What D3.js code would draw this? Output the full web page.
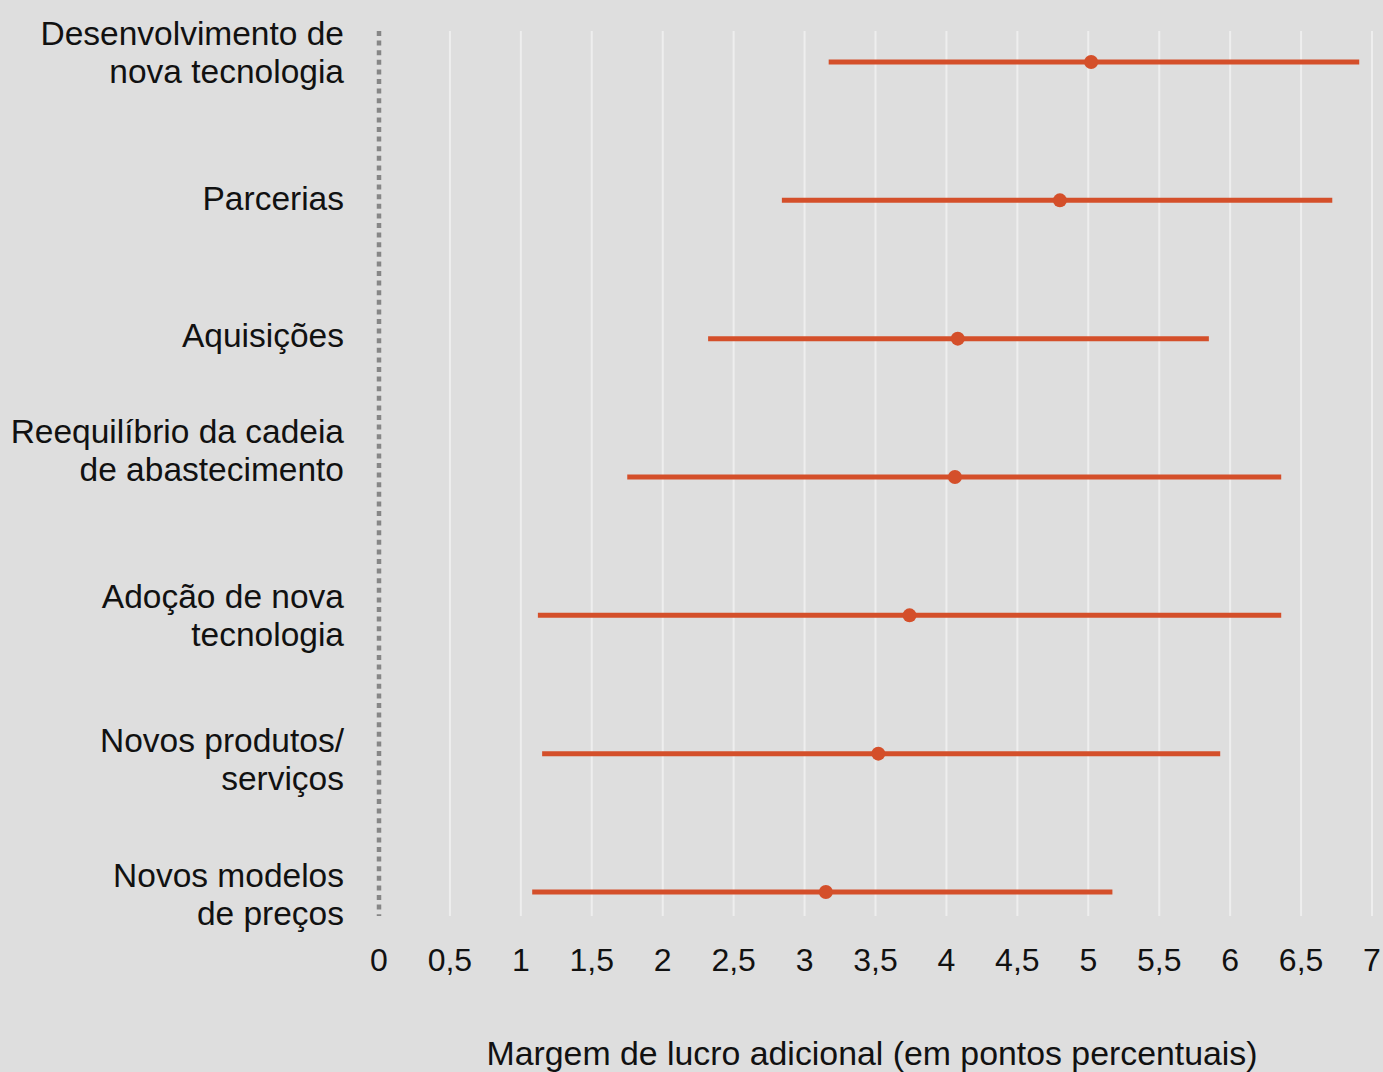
<!DOCTYPE html>
<html>
<head>
<meta charset="utf-8">
<script src="https://cdn.jsdelivr.net/npm/d3@7"></script>
<style>
  body { margin: 0; background: #dedede; }
  svg { display: block; font-family: "Liberation Sans", Arial, sans-serif; }
</style>
</head>
<body>
<svg id="chart" width="1383" height="1072"></svg>
<script>
// categories, top to bottom (lines split for the labels)
var categories = [
  ["Desenvolvimento de", "nova tecnologia"],
  ["Parcerias"],
  ["Aquisições"],
  ["Reequilíbrio da cadeia", "de abastecimento"],
  ["Adoção de nova", "tecnologia"],
  ["Novos produtos/", "serviços"],
  ["Novos modelos", "de preços"]
];
var lowValues  = [3.17, 2.84, 2.32, 1.75, 1.12, 1.15, 1.08];
var midValues  = [5.02, 4.80, 4.08, 4.06, 3.74, 3.52, 3.15];
var highValues = [6.91, 6.72, 5.85, 6.36, 6.36, 5.93, 5.17];
var tickValues = [0, 0.5, 1, 1.5, 2, 2.5, 3, 3.5, 4, 4.5, 5, 5.5, 6, 6.5, 7];
var axisTitle = "Margem de lucro adicional (em pontos percentuais)";

// label block shift relative to its row (layout only)
var labelShift = [-10, -2, -4, -27, 0, 5, 2];

var svg = d3.select("#chart");
var orange = "#d44f2a";

var x = d3.scaleLinear().domain([0, 7]).range([379, 1372]);
var y = d3.scalePoint().domain(d3.range(categories.length)).range([62, 892]);

var rows = categories.map(function(c, i) {
  return { label: c, low: lowValues[i], mid: midValues[i], high: highValues[i], i: i };
});

// gridlines
svg.append("g").selectAll("line")
  .data(tickValues.filter(function(d) { return d > 0; }))
  .enter().append("line")
  .attr("x1", function(d) { return x(d); })
  .attr("x2", function(d) { return x(d); })
  .attr("y1", 31)
  .attr("y2", 916)
  .attr("stroke", "#eeeeee")
  .attr("stroke-width", 2);

// dotted zero axis
svg.append("line")
  .attr("x1", x(0)).attr("x2", x(0))
  .attr("y1", 31).attr("y2", 916)
  .attr("stroke", "#868686")
  .attr("stroke-width", 4.5)
  .attr("stroke-dasharray", "5,4.6");

// tick labels
svg.append("g").selectAll("text")
  .data(tickValues)
  .enter().append("text")
  .attr("x", function(d) { return x(d); })
  .attr("y", 971)
  .attr("text-anchor", "middle")
  .attr("font-size", 32)
  .attr("fill", "#111")
  .text(function(d) { return String(d).replace(".", ","); });

// ranges
var g = svg.append("g");
g.selectAll("line.range")
  .data(rows)
  .enter().append("line")
  .attr("class", "range")
  .attr("x1", function(d) { return x(d.low); })
  .attr("x2", function(d) { return x(d.high); })
  .attr("y1", function(d) { return y(d.i); })
  .attr("y2", function(d) { return y(d.i); })
  .attr("stroke", orange)
  .attr("stroke-width", 5);

g.selectAll("circle")
  .data(rows)
  .enter().append("circle")
  .attr("cx", function(d) { return x(d.mid); })
  .attr("cy", function(d) { return y(d.i); })
  .attr("r", 7)
  .attr("fill", orange);

// category labels
var lab = svg.append("g").selectAll("text")
  .data(rows)
  .enter().append("text")
  .attr("text-anchor", "end")
  .attr("font-size", 33.5)
  .attr("fill", "#111");

lab.each(function(d) {
  var t = d3.select(this);
  var n = d.label.length;
  d.label.forEach(function(line, k) {
    t.append("tspan")
      .attr("x", 344)
      .attr("y", y(d.i) + 12 + (k - (n - 1) / 2) * 38 + labelShift[d.i])
      .text(line);
  });
});

// axis title
svg.append("text")
  .attr("x", 872)
  .attr("y", 1065)
  .attr("text-anchor", "middle")
  .attr("font-size", 33)
  .attr("textLength", 771)
  .attr("lengthAdjust", "spacingAndGlyphs")
  .attr("fill", "#111")
  .text(axisTitle);
</script>
</body>
</html>
